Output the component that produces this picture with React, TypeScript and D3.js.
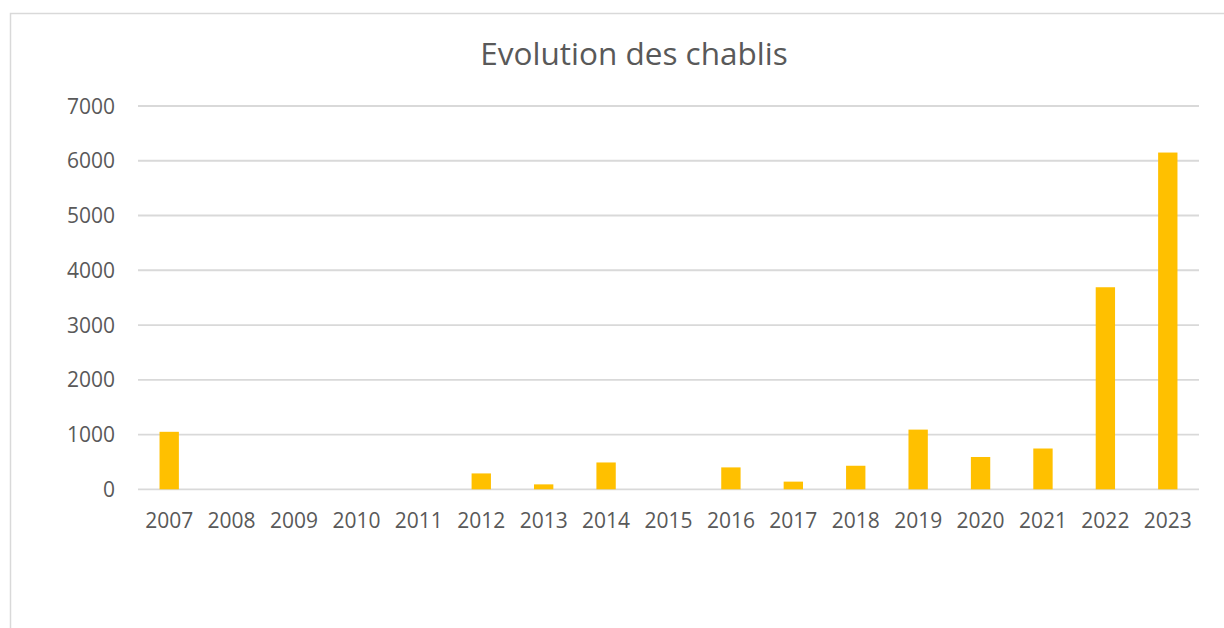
import React from 'react';
import * as d3 from 'd3';

const YEARS = ['2007', '2008', '2009', '2010', '2011', '2012', '2013', '2014', '2015', '2016', '2017', '2018', '2019', '2020', '2021', '2022', '2023'];
const CHABLIS = [1050, 0, 0, 0, 0, 290, 90, 490, 0, 400, 140, 430, 1090, 590, 745, 3690, 6150];
const Y_TICKS = [0, 1000, 2000, 3000, 4000, 5000, 6000, 7000];
const TITLE = 'Evolution des chablis';

const WIDTH = 1224;
const HEIGHT = 628;
const TEXT_COLOR = '#595959';
const GRID_COLOR = '#d9d9d9';
const BAR_COLOR = '#ffc000';
const FONT = '"Open Sans", "Noto Sans", sans-serif';

export default function App() {
  const x = d3.scaleBand<string>()
    .domain(YEARS)
    .range([138, 1199])
    .paddingInner(0.69)
    .paddingOuter(0.345);

  const y = d3.scaleLinear()
    .domain([0, 7000])
    .range([489.3, 106]);

  return (
    <svg width={WIDTH} height={HEIGHT} style={{ position: 'absolute', left: 0, top: 0, background: '#fff' }}>
      {/* chart frame */}
      <rect x={10.5} y={13.5} width={WIDTH + 20} height={HEIGHT + 20} fill="#fff" stroke={GRID_COLOR} strokeWidth={1.5} />

      <text x={634} y={65} textAnchor="middle" fill={TEXT_COLOR} fontFamily={FONT} fontSize={31.5}>{TITLE}</text>

      {Y_TICKS.map(t => (
        <g key={t}>
          <line x1={138} x2={1199} y1={y(t)} y2={y(t)} stroke={GRID_COLOR} strokeWidth={1.8} />
          <text x={115} y={y(t)} dy="0.36em" textAnchor="end" fill={TEXT_COLOR} fontFamily={FONT} fontSize={21}>{t}</text>
        </g>
      ))}

      {YEARS.map((yr, i) => (
        <g key={yr}>
          {CHABLIS[i] > 0 && (
            <rect
              x={x(yr)}
              y={y(CHABLIS[i])}
              width={x.bandwidth()}
              height={y(0) - y(CHABLIS[i])}
              fill={BAR_COLOR}
            />
          )}
          <text x={(x(yr) ?? 0) + x.bandwidth() / 2} y={528} textAnchor="middle" fill={TEXT_COLOR} fontFamily={FONT} fontSize={21}>{yr}</text>
        </g>
      ))}
    </svg>
  );
}
